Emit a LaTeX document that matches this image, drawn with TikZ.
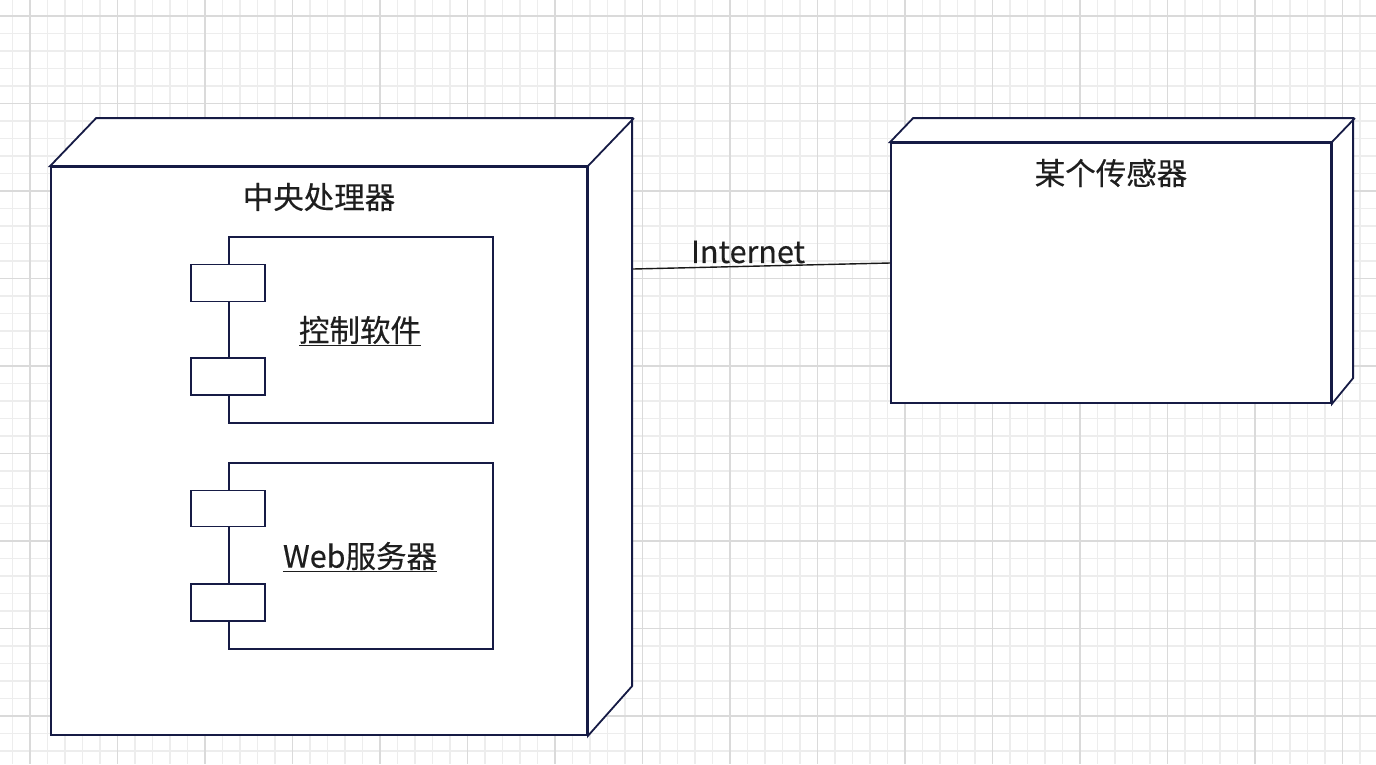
\documentclass[tikz,border=0pt]{standalone}
\usepackage{fontspec}
\setmainfont{Noto Sans CJK SC}[RawFeature={embolden=0.35}]
\definecolor{edgec}{HTML}{161B45}
\definecolor{txt}{HTML}{1E1E1E}
\definecolor{gminor}{HTML}{EDEDED}
\definecolor{gmajor}{HTML}{DADADA}
\begin{document}
\begin{tikzpicture}[x=1pt,y=-1pt,
  face/.style={draw=edgec, line width=1.8pt, fill=white, rectangle, inner sep=0pt},
  ttl/.style={text=txt, font=\fontsize{30.5}{36}\selectfont, inner sep=0pt},
  minorg/.style={gminor, line width=1.4pt},
  majorg/.style={gmajor, line width=1.6pt},
  link/.style={draw=black!90, line width=1.4pt}]
\useasboundingbox (0,0) rectangle (1376,764);
\fill[white] (0,0) rectangle (1376,764);
% grid
\foreach \i in {0,...,79} \draw[minorg] ({-5+17.5*\i},0) -- ++(0,764);
\foreach \i in {0,...,44} \draw[minorg] (0,{-1.5+17.5*\i}) -- ++(1376,0);
\foreach \i in {0,...,15} \draw[majorg] ({30+87.5*\i},0) -- ++(0,764);
\foreach \i in {0,...,8} \draw[majorg] (0,{16+87.5*\i}) -- ++(1376,0);

% central processor node
\node[face, minimum width=536pt, minimum height=568pt] (cpu) at (319,451) {};
\filldraw[draw=edgec, fill=white, line width=1.8pt, line join=miter]
  (cpu.north west) -- ++(46,-48) -- ++(536,0) -- ++(0,568) -- (cpu.south east) -- (cpu.north east) -- cycle;
\draw[draw=edgec, line width=1.8pt] (cpu.north east) -- ++(46,-48);
\node[ttl] (cputitle) at (319,197) {中央处理器};

% component 1
\node[face, minimum width=264pt, minimum height=186pt] (comp1) at (361,330) {};
\node[face, minimum width=74pt, minimum height=37pt] (p1a) at (228,283) {};
\node[face, minimum width=74pt, minimum height=37pt] (p1b) at (228,376.5) {};
\node[ttl] (comp1lbl) at (360,331) {\underline{控制软件}};

% component 2
\node[face, minimum width=264pt, minimum height=186pt] (comp2) at (361,556) {};
\node[face, minimum width=74pt, minimum height=36pt] (p2a) at (228,508.5) {};
\node[face, minimum width=74pt, minimum height=37pt] (p2b) at (228,602.5) {};
\node[ttl] (comp2lbl) at (360,557) {\underline{Web服务器}};

% sensor node
\node[face, minimum width=440pt, minimum height=260pt] (sens) at (1111,273) {};
\filldraw[draw=edgec, fill=white, line width=1.8pt, line join=miter]
  (sens.north west) -- ++(23,-24) -- ++(440,0) -- ++(0,260) -- (sens.south east) -- (sens.north east) -- cycle;
\draw[draw=edgec, line width=1.8pt] (sens.north east) -- ++(23,-24);
\node[ttl] (senstitle) at (1111,173) {某个传感器};

% link
\coordinate (cpuport) at (633,269);
\coordinate (sensport) at (sens.west |- 0,263);
\draw[link] (cpuport) -- (sensport);
\node[ttl] (netlbl) at (748,252) {Internet};
\end{tikzpicture}
\end{document}
